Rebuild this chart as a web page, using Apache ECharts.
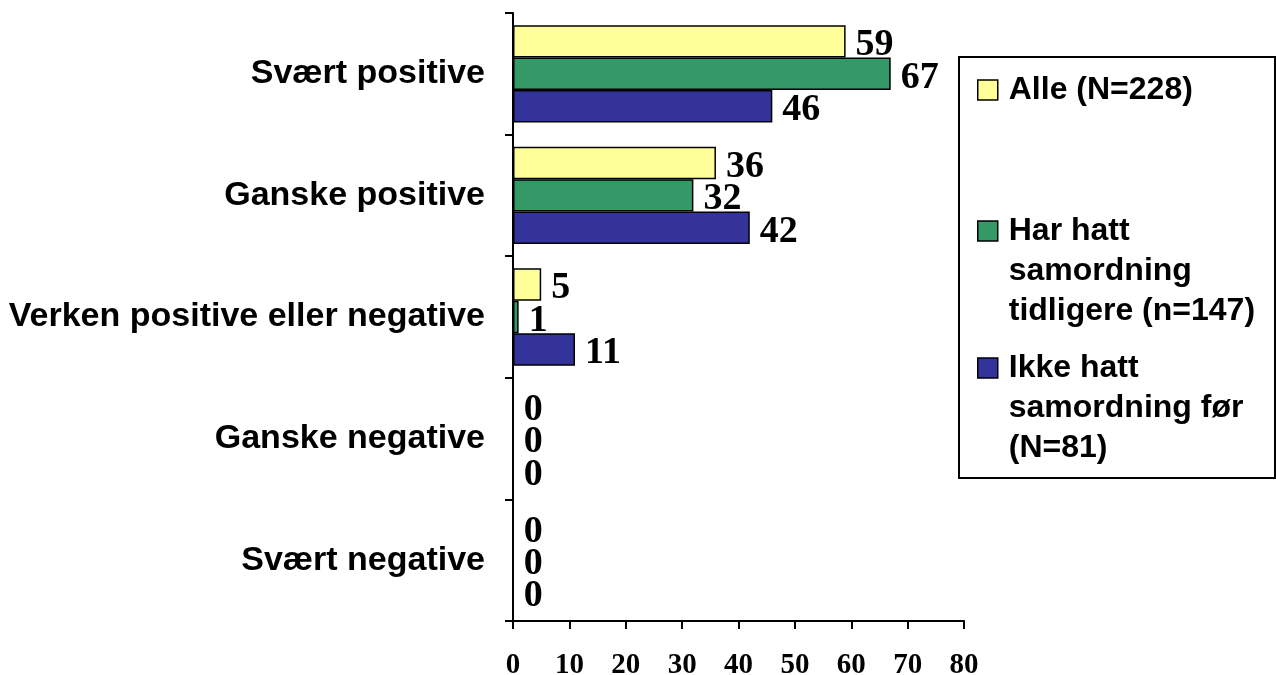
<!DOCTYPE html>
<html>
<head>
<meta charset="utf-8">
<script src="https://cdn.jsdelivr.net/npm/echarts@6/dist/echarts.min.js"></script>
<style>
html,body{margin:0;padding:0;background:#fff;}
#chart{width:1276px;height:675px;}
</style>
</head>
<body>
<div id="chart"></div>
<script>
const categories = ['Svært positive', 'Ganske positive', 'Verken positive eller negative', 'Ganske negative', 'Svært negative'];
const seriesNames = ['Alle (N=228)', 'Har hatt\nsamordning\ntidligere (n=147)', 'Ikke hatt\nsamordning før\n(N=81)'];
const alle = [59, 36, 5, 0, 0];
const harHatt = [67, 32, 1, 0, 0];
const ikkeHatt = [46, 42, 11, 0, 0];
const xTicks = [0, 10, 20, 30, 40, 50, 60, 70, 80];
const colors = ['#FFFF99', '#339966', '#333399'];

const chart = echarts.init(document.getElementById('chart'));
const sans = '"Liberation Sans", Arial, sans-serif';
const serif = '"Liberation Serif", "Times New Roman", serif';

function mkSeries(name, data, color) {
  return {
    name: name, type: 'bar', data: data,
    barCategoryGap: '20%', barGap: '0%',
    itemStyle: { color: color, borderColor: '#000', borderWidth: 1.5 },
    label: { show: true, position: 'right', distance: 10, offset: [0, 4], color: '#000',
      fontFamily: serif, fontWeight: 'bold', fontSize: 38 },
    emphasis: { disabled: true },
    animation: false
  };
}

function mkLegend(name, top, multi) {
  return {
    data: [name], orient: 'vertical', left: 977, top: top, padding: 0,
    itemWidth: 20, itemHeight: 20, icon: 'rect', selectedMode: false,
    itemStyle: { borderColor: '#000', borderWidth: 1.5 },
    formatter: multi ? function (n) { return '\n\n' + n; } : '{name}',
    textStyle: { fontFamily: sans, fontWeight: 'bold', fontSize: 32, color: '#000',
      lineHeight: 40, padding: [0, 0, 0, 6] }
  };
}

chart.setOption({
  backgroundColor: '#fff',
  animation: false,
  grid: { left: 513, right: 312, top: 13, bottom: 54, containLabel: false, outerBoundsMode: 'none' },
  xAxis: {
    type: 'value', min: xTicks[0], max: xTicks[xTicks.length - 1], interval: 10,
    splitLine: { show: false },
    axisLine: { show: true, lineStyle: { color: '#000', width: 2 } },
    axisTick: { show: true, length: 8, lineStyle: { color: '#000', width: 2 } },
    axisLabel: { color: '#000', fontFamily: serif, fontWeight: 'bold', fontSize: 29, margin: 30 }
  },
  yAxis: {
    type: 'category', data: categories, inverse: true,
    axisLine: { show: true, lineStyle: { color: '#000', width: 2 } },
    axisTick: { show: true, length: 8, lineStyle: { color: '#000', width: 2 } },
    axisLabel: { color: '#000', fontFamily: sans, fontWeight: 'bold', fontSize: 34, margin: 28 }
  },
  legend: [
    mkLegend(seriesNames[0], 70, false),
    mkLegend(seriesNames[1], 131, true),
    mkLegend(seriesNames[2], 268, true)
  ],
  graphic: [{
    type: 'rect', shape: { x: 959, y: 57, width: 316, height: 421 },
    style: { fill: 'none', stroke: '#000', lineWidth: 2 }, silent: true
  }],
  series: [
    mkSeries(seriesNames[0], alle, colors[0]),
    mkSeries(seriesNames[1], harHatt, colors[1]),
    mkSeries(seriesNames[2], ikkeHatt, colors[2])
  ]
});
</script>
</body>
</html>
